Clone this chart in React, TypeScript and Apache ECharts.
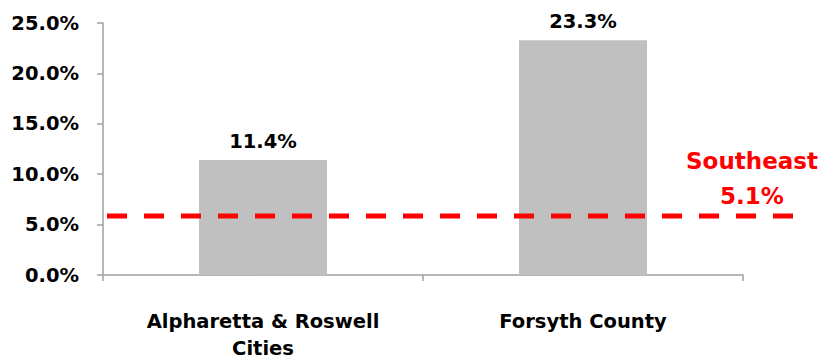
import React, { useEffect, useRef } from "react";
import * as echarts from "echarts";

const categories = ["Alpharetta & Roswell\nCities", "Forsyth County"];
const values = [11.4, 23.3];
const yTicks = [0, 5, 10, 15, 20, 25];
const southeastName = "Southeast";
const southeastValue = "5.1%";
const southeastLineLevel = [5.85, 5.85];

export default function App() {
  const ref = useRef<HTMLDivElement>(null);
  useEffect(() => {
    const chart = echarts.init(ref.current!, null, { renderer: "svg" });
    const font = "DejaVu Sans";
    const redText = {
      fill: "#FF0000",
      fontFamily: font,
      fontWeight: "bold",
      fontSize: 23,
      align: "center",
      verticalAlign: "middle",
    };
    chart.setOption({
      animation: false,
      grid: [
        { left: 103, right: 78, top: 23, bottom: 87 },
        { left: 107, right: 21, top: 23, bottom: 87 },
      ],
      xAxis: [
        {
          type: "category",
          data: categories,
          gridIndex: 0,
          axisLine: { lineStyle: { color: "#A0A0A0", width: 1.5 } },
          axisTick: { show: true, length: 6, lineStyle: { color: "#A0A0A0", width: 1.5 } },
          axisLabel: {
            color: "#000",
            fontFamily: font,
            fontWeight: "bold",
            fontSize: 19.5,
            lineHeight: 27,
            margin: 33,
          },
        },
        { type: "value", gridIndex: 1, min: 0, max: 1, show: false },
      ],
      yAxis: [
        {
          type: "value",
          gridIndex: 0,
          min: yTicks[0],
          max: yTicks[yTicks.length - 1],
          interval: 5,
          axisLine: { show: true, lineStyle: { color: "#A0A0A0", width: 1.5 } },
          axisTick: { show: true, length: 6, lineStyle: { color: "#A0A0A0", width: 1.5 } },
          splitLine: { show: false },
          axisLabel: {
            color: "#000",
            fontFamily: font,
            fontWeight: "bold",
            fontSize: 19.5,
            margin: 24,
            formatter: (v: number) => v.toFixed(1) + "%",
          },
        },
        { type: "value", gridIndex: 1, min: 0, max: 25, show: false },
      ],
      series: [
        {
          type: "bar",
          xAxisIndex: 0,
          yAxisIndex: 0,
          data: values,
          barWidth: "40%",
          itemStyle: { color: "#C0C0C0" },
          label: {
            show: true,
            position: "top",
            distance: 9,
            color: "#000",
            fontFamily: font,
            fontWeight: "bold",
            fontSize: 19.5,
            formatter: (p: any) => p.value.toFixed(1) + "%",
          },
        },
        {
          type: "line",
          xAxisIndex: 1,
          yAxisIndex: 1,
          data: [
            [0, southeastLineLevel[0]],
            [1, southeastLineLevel[1]],
          ],
          symbol: "none",
          lineStyle: { color: "#FF0000", width: 5, type: [20, 17] },
          z: 5,
        },
      ],
      graphic: [
        { type: "text", x: 752, y: 161, style: { ...redText, text: southeastName } },
        { type: "text", x: 752, y: 196, style: { ...redText, text: southeastValue } },
      ],
    });
    return () => chart.dispose();
  }, []);
  return <div ref={ref} style={{ width: 821, height: 362, position: "absolute", left: 0, top: 0 }} />;
}
